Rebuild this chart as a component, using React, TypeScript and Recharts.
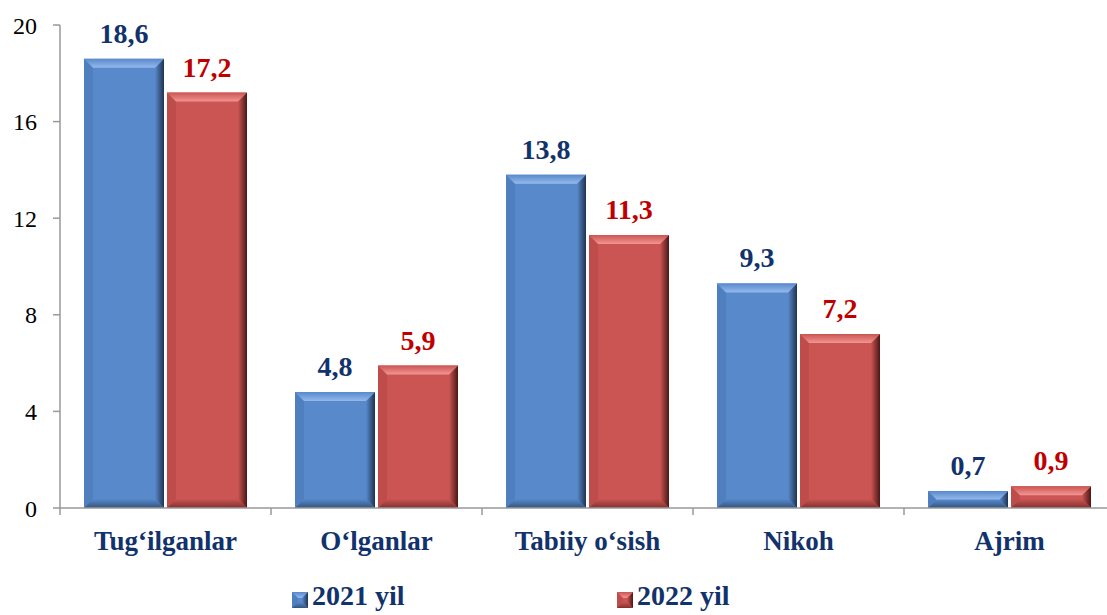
import React from "react"
import { BarChart, Bar, XAxis, YAxis, LabelList, Legend } from "recharts"

const categories = ["Tug‘ilganlar", "O‘lganlar", "Tabiiy o‘sish", "Nikoh", "Ajrim"]
const values2021 = [18.6, 4.8, 13.8, 9.3, 0.7]
const values2022 = [17.2, 5.9, 11.3, 7.2, 0.9]
const yTicks = [0, 4, 8, 12, 16, 20]
const seriesNames = ["2021 yil", "2022 yil"]

const data = categories.map((c, i) => ({ name: c, y2021: values2021[i], y2022: values2022[i] }))

const CHART_W = 1117
const CHART_H = 615
const YAXIS_W = 60
const MARGIN = { top: 25, right: 2, left: 0, bottom: 0 }
const BAND = (CHART_W - YAXIS_W - MARGIN.right - MARGIN.left) / categories.length

const SERIF = '"Liberation Serif", "Times New Roman", serif'
const NAVY = "#12326b"
const RED_TEXT = "#c00000"

const BLUE = { id: "b", base: "#5889cb", light: "#94baec", left: "#4f7fbf", dark: "#1f3350", bottom: "#33547f" }
const RED = { id: "r", base: "#cb5553", light: "#f29694", left: "#bd4c4a", dark: "#4a1716", bottom: "#82302e" }

type Pal = typeof BLUE

const Gradients = ({ pal }: { pal: Pal }) => (
  <>
    <linearGradient id={`top-${pal.id}`} x1="0" y1="0" x2="0" y2="1">
      <stop offset="0" stopColor={pal.base} />
      <stop offset="1" stopColor={pal.light} />
    </linearGradient>
    <linearGradient id={`right-${pal.id}`} x1="0" y1="0" x2="1" y2="0">
      <stop offset="0" stopColor={pal.base} />
      <stop offset="1" stopColor={pal.dark} />
    </linearGradient>
    <linearGradient id={`bottom-${pal.id}`} x1="0" y1="0" x2="0" y2="1">
      <stop offset="0" stopColor={pal.base} />
      <stop offset="1" stopColor={pal.bottom} />
    </linearGradient>
  </>
)

function bevelPolys(x: number, y: number, w: number, h: number, pal: Pal, size = 9) {
  const b = Math.max(0, Math.min(size, w / 2, h / 2))
  const x2 = x + w
  const y2 = y + h
  const pts = (a: number[][]) => a.map((p) => p.join(",")).join(" ")
  return (
    <g>
      <rect x={x} y={y} width={w} height={h} fill={pal.base} />
      <polygon points={pts([[x, y], [x + b, y + b], [x + b, y2 - b], [x, y2]])} fill={pal.left} />
      <polygon points={pts([[x2, y], [x2, y2], [x2 - b, y2 - b], [x2 - b, y + b]])} fill={`url(#right-${pal.id})`} />
      <polygon points={pts([[x, y2], [x + b, y2 - b], [x2 - b, y2 - b], [x2, y2]])} fill={`url(#bottom-${pal.id})`} />
      <polygon points={pts([[x, y], [x2, y], [x2 - b, y + b], [x + b, y + b]])} fill={`url(#top-${pal.id})`} />
    </g>
  )
}

const makeShape = (pal: Pal) => (props: any) => {
  const { x, y, width, height } = props
  if (!height || height <= 0) return null
  return bevelPolys(x, y, width, height, pal)
}

const CategoryTick = (props: any) => {
  const { x, y, payload, index } = props
  const left = x - BAND / 2
  return (
    <g>
      <line x1={left} y1={y} x2={left} y2={y + 7} stroke="#999" strokeWidth={1.5} />
      {index === categories.length - 1 && (
        <line x1={x + BAND / 2} y1={y} x2={x + BAND / 2} y2={y + 7} stroke="#999" strokeWidth={1.5} />
      )}
      <text x={x} y={y + 42} textAnchor="middle" fill={NAVY} fontFamily={SERIF} fontWeight="bold" fontSize={27}>
        {payload.value}
      </text>
    </g>
  )
}

const LegendContent = () => {
  const pals = [BLUE, RED]
  return (
    <div
      style={{
        height: 57,
        display: "flex",
        alignItems: "flex-end",
        paddingLeft: 292,
        paddingBottom: 5,
        boxSizing: "border-box",
      }}
    >
      {seriesNames.map((n, i) => (
        <div key={n} style={{ display: "flex", alignItems: "flex-end", width: i === 0 ? 325 : undefined }}>
          <svg width={17} height={16} style={{ marginRight: 3, marginBottom: 2 }}>
            <defs>
              <Gradients pal={pals[i]} />
            </defs>
            {bevelPolys(0, 0, 16, 16, pals[i], 6)}
          </svg>
          <span style={{ fontFamily: SERIF, fontWeight: "bold", fontSize: 28, color: NAVY, lineHeight: "28px" }}>
            {n}
          </span>
        </div>
      ))}
    </div>
  )
}

const fmt = (v: any) => String(v).replace(".", ",")

export default function App() {
  return (
    <div style={{ position: "absolute", left: 0, top: 0, width: 1107, height: 615, overflow: "hidden", background: "#fff" }}>
      <BarChart width={CHART_W} height={CHART_H} data={data} margin={MARGIN} barGap={3} barCategoryGap={24}>
        <defs>
          <Gradients pal={BLUE} />
          <Gradients pal={RED} />
        </defs>
        <XAxis
          dataKey="name"
          height={50}
          tick={<CategoryTick />}
          tickLine={false}
          tickSize={0}
          tickMargin={0}
          axisLine={{ stroke: "#999", strokeWidth: 1.5 }}
          interval={0}
        />
        <YAxis
          width={YAXIS_W}
          domain={[0, 20]}
          ticks={yTicks}
          tickSize={7}
          tickMargin={16}
          tick={{ fill: "#000", fontSize: 24, fontFamily: SERIF }}
          tickLine={{ stroke: "#999", strokeWidth: 1.5 }}
          axisLine={{ stroke: "#999", strokeWidth: 1.5 }}
        />
        <Legend verticalAlign="bottom" content={<LegendContent />} />
        <Bar dataKey="y2021" name={seriesNames[0]} fill={BLUE.base} shape={makeShape(BLUE)} isAnimationActive={false}>
          <LabelList
            dataKey="y2021"
            position="top"
            offset={16}
            formatter={fmt}
            fill={NAVY}
            fontSize={28}
            fontWeight="bold"
            fontFamily={SERIF}
          />
        </Bar>
        <Bar dataKey="y2022" name={seriesNames[1]} fill={RED.base} shape={makeShape(RED)} isAnimationActive={false}>
          <LabelList
            dataKey="y2022"
            position="top"
            offset={16}
            formatter={fmt}
            fill={RED_TEXT}
            fontSize={28}
            fontWeight="bold"
            fontFamily={SERIF}
          />
        </Bar>
      </BarChart>
    </div>
  )
}
